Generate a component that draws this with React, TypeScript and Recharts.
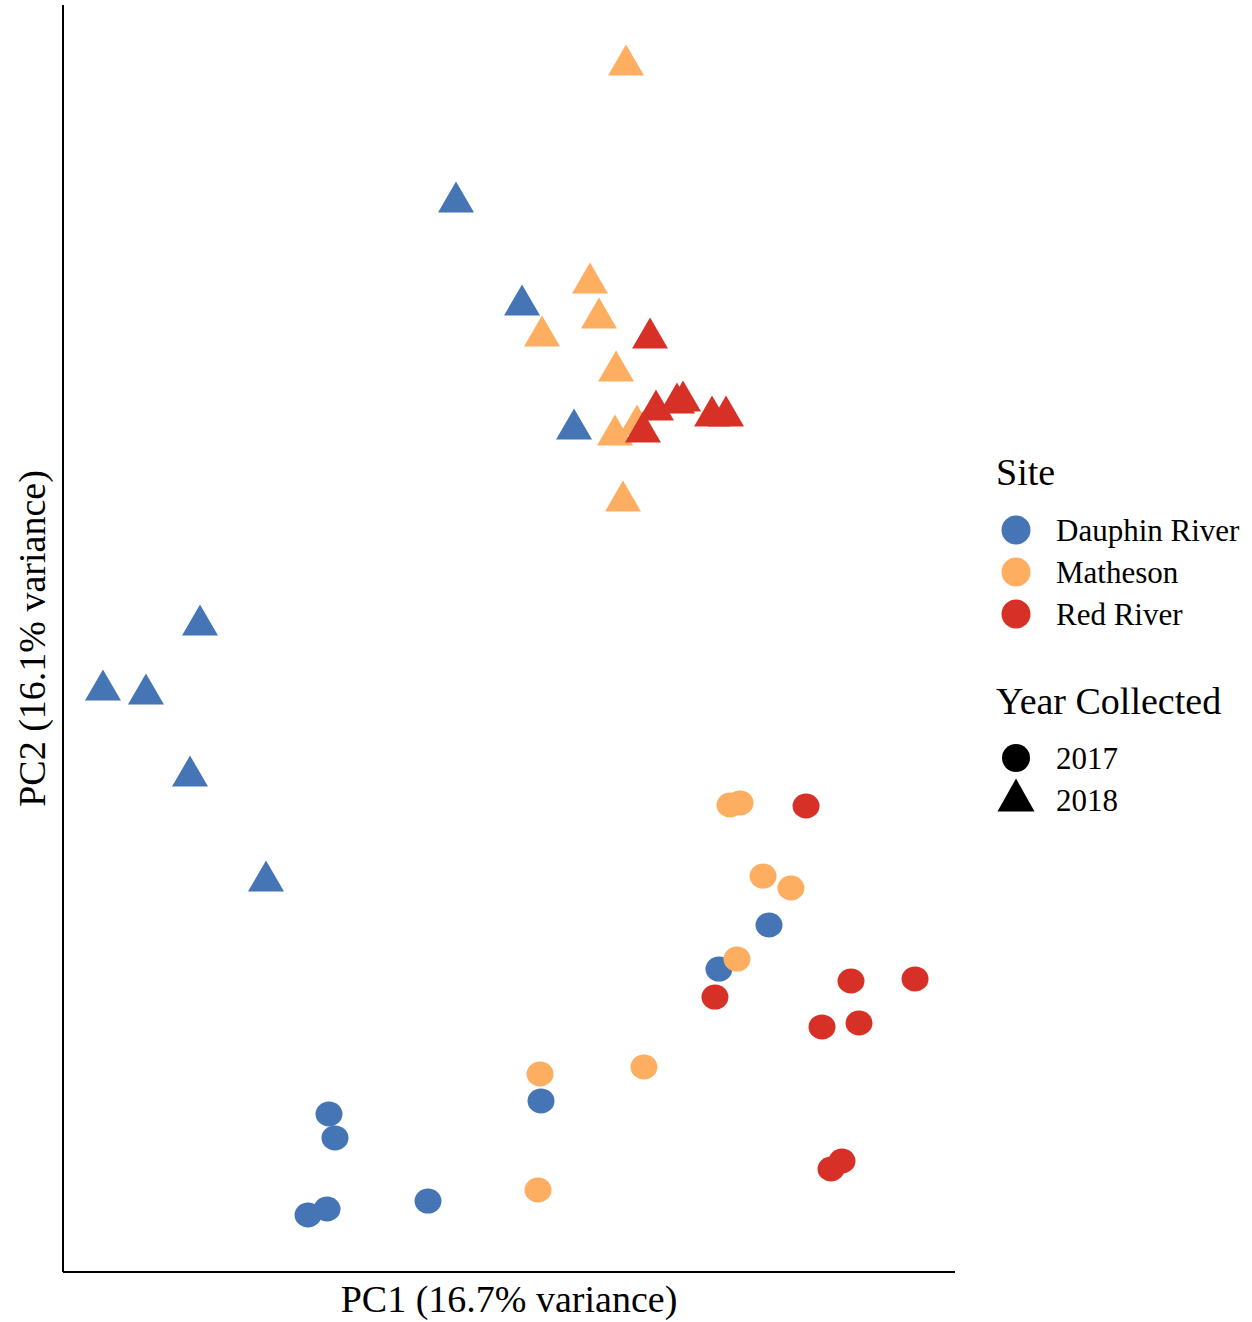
import { Scatter, ScatterChart, XAxis, YAxis } from "recharts";

type Pt = { x: number; y: number };

// PCA scores (arbitrary units, axes 0–100)
const dauphin2018: Pt[] = [
  { x: 44.06, y: 84.85 },
  { x: 51.46, y: 76.72 },
  { x: 57.29, y: 66.93 },
  { x: 15.36, y: 51.46 },
  { x: 4.48, y: 46.33 },
  { x: 9.3, y: 46.01 },
  { x: 14.24, y: 39.54 },
  { x: 22.76, y: 31.25 },
];
const matheson2018: Pt[] = [
  { x: 63.12, y: 95.66 },
  { x: 59.08, y: 78.45 },
  { x: 60.09, y: 75.69 },
  { x: 53.7, y: 74.27 },
  { x: 62.0, y: 71.51 },
  { x: 64.35, y: 67.25 },
  { x: 61.88, y: 66.46 },
  { x: 62.78, y: 61.25 },
];
const red2018: Pt[] = [
  { x: 65.81, y: 74.11 },
  { x: 66.48, y: 68.43 },
  { x: 68.83, y: 68.98 },
  { x: 69.51, y: 69.14 },
  { x: 72.76, y: 67.96 },
  { x: 74.33, y: 67.96 },
  { x: 65.02, y: 66.69 },
];
const dauphin2017: Pt[] = [
  { x: 79.15, y: 27.39 },
  { x: 73.54, y: 23.91 },
  { x: 29.82, y: 12.47 },
  { x: 30.49, y: 10.58 },
  { x: 53.59, y: 13.5 },
  { x: 40.92, y: 5.6 },
  { x: 27.47, y: 4.5 },
  { x: 29.6, y: 4.97 },
];
const matheson2017: Pt[] = [
  { x: 74.78, y: 36.86 },
  { x: 75.9, y: 37.02 },
  { x: 78.48, y: 31.25 },
  { x: 81.61, y: 30.31 },
  { x: 75.56, y: 24.7 },
  { x: 53.48, y: 15.63 },
  { x: 65.13, y: 16.18 },
  { x: 53.25, y: 6.47 },
];
const red2017: Pt[] = [
  { x: 83.3, y: 36.78 },
  { x: 73.09, y: 21.7 },
  { x: 88.34, y: 22.97 },
  { x: 95.52, y: 23.13 },
  { x: 85.09, y: 19.34 },
  { x: 89.24, y: 19.65 },
  { x: 86.1, y: 8.13 },
  { x: 87.33, y: 8.76 },
];

const sites = ["Dauphin River", "Matheson", "Red River"];
const years = ["2017", "2018"];

const BLUE = "#4575b4";
const ORANGE = "#fdae61";
const RED = "#d73027";
const siteColors = [BLUE, ORANGE, RED];

const FONT = "'Liberation Serif', 'Times New Roman', serif";

const circleShape = (fill: string) => (props: any) => (
  <ellipse cx={props.cx} cy={props.cy} rx={13.5} ry={12.5} fill={fill} />
);

const triPath = (cx: number, cy: number, w: number, h: number) =>
  `M${cx},${cy - h / 2} L${cx + w / 2},${cy + h / 2} L${cx - w / 2},${cy + h / 2} Z`;

const triangleShape = (fill: string) => (props: any) => (
  <path d={triPath(props.cx, props.cy, 36, 31)} fill={fill} />
);

const Legend = () => (
  <svg
    width={260}
    height={400}
    style={{ position: "absolute", left: 992, top: 440 }}
    fontFamily={FONT}
  >
    <text x={4} y={45} fontSize={38} fill="#000">
      Site
    </text>
    {sites.map((s, i) => (
      <g key={s}>
        <circle cx={24} cy={90 + i * 42} r={14.5} fill={siteColors[i]} />
        <text x={64} y={90 + i * 42} fontSize={31} dominantBaseline="central" fill="#000">
          {s}
        </text>
      </g>
    ))}
    <text x={4} y={274} fontSize={38} fill="#000">
      Year Collected
    </text>
    <circle cx={24} cy={318} r={14} fill="#000" />
    <text x={64} y={318} fontSize={31} dominantBaseline="central" fill="#000">
      {years[0]}
    </text>
    <path d={triPath(24, 355, 37, 33)} fill="#000" />
    <text x={64} y={360} fontSize={31} dominantBaseline="central" fill="#000">
      {years[1]}
    </text>
  </svg>
);

export default function App() {
  return (
    <div
      style={{
        position: "absolute",
        left: 0,
        top: 0,
        width: 1252,
        height: 1322,
        background: "#fff",
      }}
    >
      <ScatterChart
        width={1252}
        height={1322}
        margin={{ top: 5, right: 297, bottom: 0, left: 0 }}
      >
        <XAxis
          type="number"
          dataKey="x"
          domain={[0, 100]}
          tick={false}
          tickLine={false}
          axisLine={{ stroke: "#000", strokeWidth: 2 }}
          height={50}
          label={{
            value: "PC1 (16.7% variance)",
            position: "insideBottom",
            offset: 10,
            style: { fontFamily: FONT, fontSize: 38, fill: "#000" },
          }}
        />
        <YAxis
          type="number"
          dataKey="y"
          domain={[0, 100]}
          tick={false}
          tickLine={false}
          axisLine={{ stroke: "#000", strokeWidth: 2 }}
          width={63}
          label={{
            value: "PC2 (16.1% variance)",
            angle: -90,
            position: "insideLeft",
            offset: 32,
            style: { fontFamily: FONT, fontSize: 38, fill: "#000", textAnchor: "middle" },
          }}
        />
        <Scatter data={dauphin2018} shape={triangleShape(BLUE)} isAnimationActive={false} />
        <Scatter data={matheson2018} shape={triangleShape(ORANGE)} isAnimationActive={false} />
        <Scatter data={red2018} shape={triangleShape(RED)} isAnimationActive={false} />
        <Scatter data={dauphin2017} shape={circleShape(BLUE)} isAnimationActive={false} />
        <Scatter data={matheson2017} shape={circleShape(ORANGE)} isAnimationActive={false} />
        <Scatter data={red2017} shape={circleShape(RED)} isAnimationActive={false} />
      </ScatterChart>
      <Legend />
    </div>
  );
}
